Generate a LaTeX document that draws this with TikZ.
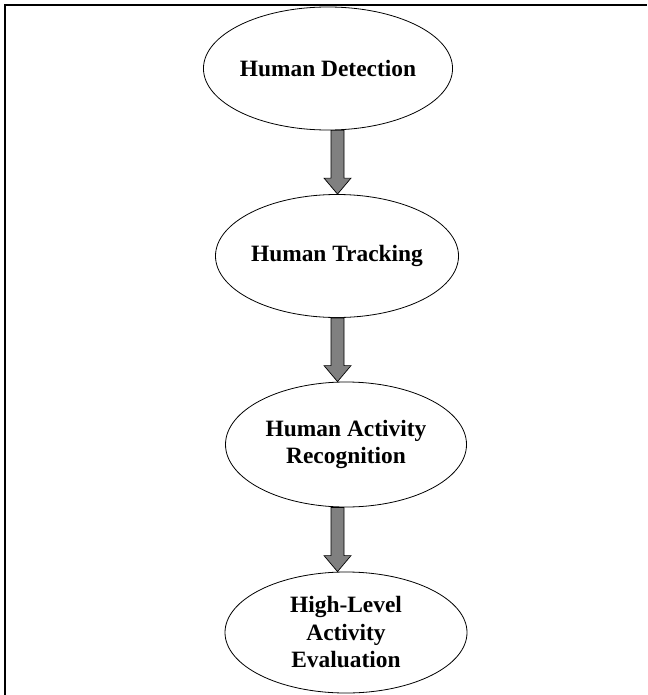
\documentclass[tikz,border=0pt]{standalone}
\usepackage{fontspec}
\setmainfont{Liberation Serif}
\usetikzlibrary{shapes.geometric,calc}

% fat grey arrow between two stages, along the vertical line through (axis)
\newcommand{\stagearrow}[2]{%
  \draw[stagearrow] let \p1 = (#1.south -| axis), \p2 = (#2.north -| axis) in
    (\x1-6.5pt,\y1) -- (\x1-6.5pt,\y2+16pt) -- (\x1-13.5pt,\y2+16pt) -- (\x2,\y2)
    -- (\x1+13.5pt,\y2+16pt) -- (\x1+6.5pt,\y2+16pt) -- (\x1+6.5pt,\y1) -- cycle;}

\begin{document}
\begin{tikzpicture}[x=1pt, y=-1pt,
  every node/.style={font=\fontsize{23.4}{27.5}\selectfont\bfseries, align=center},
  stage/.style={ellipse, draw=black, line width=0.8pt, inner sep=0pt,
    minimum width=242pt, minimum height=123pt},
  stagearrow/.style={draw=black, line width=0.7pt, fill=black!50}]
\useasboundingbox (0,0) rectangle (647,695);
% frame (top and left edge only)
\draw[line width=2pt] (5.2,695) -- (5.2,5.2) -- (647,5.2);
% Stages
\node[stage] (detect) at (328, 68.5) {Human Detection};
\node[stage] (track) at (337, 256) {Human Tracking};
\node[stage, minimum width=241pt, minimum height=125pt] (recog) at (346, 444.5) {Human Activity\\Recognition};
\node[stage, minimum height=121pt] (eval) at (346, 632.5) {High-Level\\Activity\\Evaluation};
\coordinate (axis) at (337.5, 0);
\stagearrow{detect}{track}
\stagearrow{track}{recog}
\stagearrow{recog}{eval}
\end{tikzpicture}
\end{document}
